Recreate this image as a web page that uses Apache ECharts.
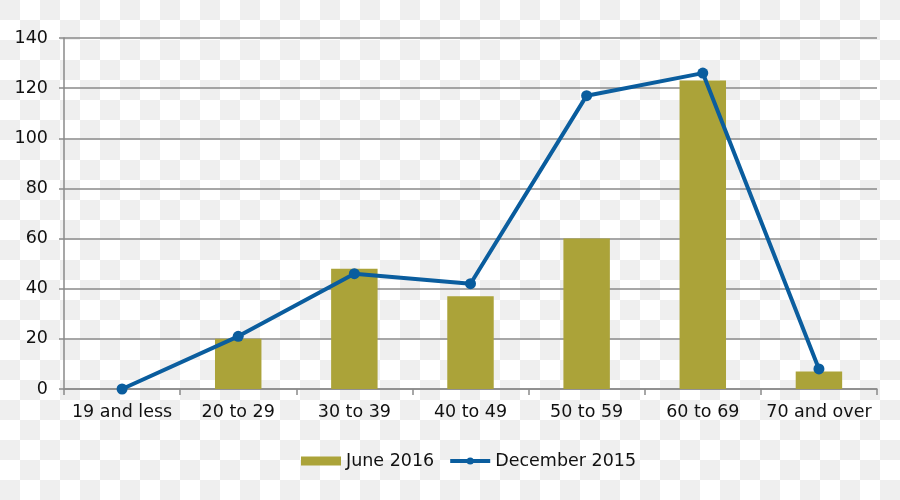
<!DOCTYPE html>
<html>
<head>
<meta charset="utf-8">
<script src="https://cdn.jsdelivr.net/npm/echarts@6/dist/echarts.min.js"></script>
<style>
html,body{margin:0;padding:0;}
body{
  width:900px;height:500px;
  background-color:#ffffff;
  background-image:
    linear-gradient(45deg,#efefef 25%,transparent 25%,transparent 75%,#efefef 75%),
    linear-gradient(45deg,#efefef 25%,transparent 25%,transparent 75%,#efefef 75%);
  background-size:40px 40px;
  background-position:20px 0,0 20px;
}
#chart{width:900px;height:500px;}
</style>
</head>
<body>
<div id="chart"></div>
<script>
const categories = ['19 and less','20 to 29','30 to 39','40 to 49','50 to 59','60 to 69','70 and over'];
const june2016 = [0, 20, 48, 37, 60, 123, 7];
const december2015 = [0, 21, 46, 42, 117, 126, 8];
const yTicks = {min: 0, max: 140, interval: 20};

const chart = echarts.init(document.getElementById('chart'), null, {renderer: 'canvas'});
const font = 'Verdana, "DejaVu Sans", sans-serif';
const blue = '#0a5d9e';
const olive = '#aba339';
chart.setOption({
  backgroundColor: 'transparent',
  animation: false,
  textStyle: {fontFamily: font},
  grid: {left: 64, right: 23, top: 38, bottom: 111},
  legend: {
    top: 447,
    left: 296,
    itemGap: 14,
    textStyle: {fontSize: 17.5, color: '#111', fontFamily: font},
    data: [
      {name: 'June 2016', icon: 'rect', itemStyle: {color: olive}},
      {name: 'December 2015', lineStyle: {width: 4, color: blue}, itemStyle: {color: blue}}
    ],
    itemWidth: 40,
    itemHeight: 9
  },
  xAxis: {
    type: 'category',
    data: categories,
    boundaryGap: true,
    axisLine: {lineStyle: {color: '#8a8a8a', width: 1.5}},
    axisTick: {show: true, alignWithLabel: false, length: 6, lineStyle: {color: '#8a8a8a', width: 1.5}},
    axisLabel: {fontSize: 17.5, color: '#111', margin: 14, fontFamily: font, interval: 0}
  },
  yAxis: {
    type: 'value',
    min: yTicks.min, max: yTicks.max, interval: yTicks.interval,
    axisLine: {show: true, lineStyle: {color: '#8a8a8a', width: 1.5}},
    axisTick: {show: true, length: 5, lineStyle: {color: '#8a8a8a', width: 1.5}},
    splitLine: {show: true, lineStyle: {color: '#8a8a8a', width: 1.5}},
    axisLabel: {fontSize: 17.5, color: '#111', margin: 16, fontFamily: font}
  },
  series: [
    {
      name: 'June 2016',
      type: 'bar',
      data: june2016,
      barWidth: '40%',
      itemStyle: {color: olive}
    },
    {
      name: 'December 2015',
      type: 'line',
      data: december2015,
      symbol: 'circle',
      symbolSize: 11,
      lineStyle: {color: blue, width: 4},
      itemStyle: {color: blue}
    }
  ]
});
</script>
</body>
</html>
